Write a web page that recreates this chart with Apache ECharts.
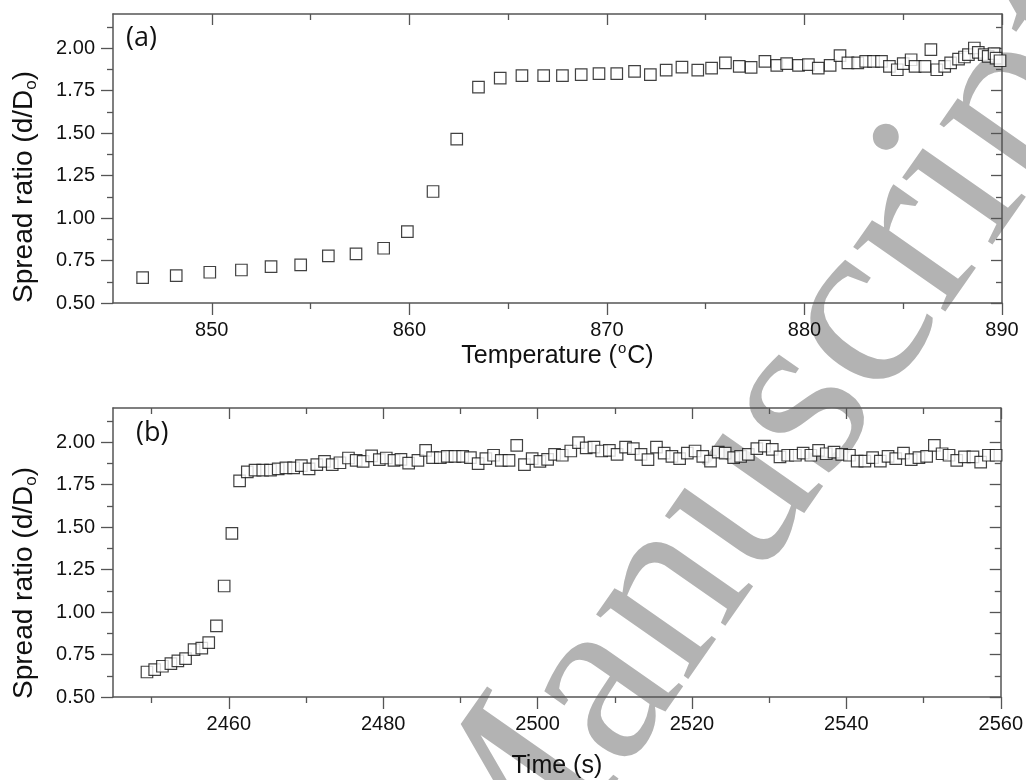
<!DOCTYPE html>
<html>
<head>
<meta charset="utf-8">
<script src="https://cdn.jsdelivr.net/npm/echarts@6/dist/echarts.min.js"></script>
<style>
html,body{margin:0;padding:0;background:#fff;}
#chart{width:1026px;height:780px;}
</style>
</head>
<body>
<div id="chart"></div>
<script>
// ---- Panel (a): spread ratio vs temperature ----
var tempC = [846.5, 848.2, 849.9, 851.5, 853.0, 854.5, 855.9, 857.3, 858.7, 859.9, 861.2, 862.4, 863.5, 864.6, 865.7, 866.8, 867.75, 868.7, 869.6, 870.5, 871.4, 872.2, 873.0, 873.8, 874.6, 875.3, 876.0, 876.7, 877.3, 878.0, 878.6, 879.1, 879.7, 880.2, 880.7, 881.3, 881.8, 882.2, 882.7, 883.1, 883.5, 883.9, 884.3, 884.7, 885.0, 885.4, 885.6, 886.1, 886.4, 886.7, 887.1, 887.4, 887.8, 888.1, 888.3, 888.6, 888.8, 889.1, 889.3, 889.6, 889.7, 889.9];
var ratioA = [0.649, 0.661, 0.681, 0.694, 0.714, 0.724, 0.777, 0.789, 0.822, 0.920, 1.156, 1.464, 1.770, 1.823, 1.837, 1.837, 1.837, 1.843, 1.849, 1.849, 1.862, 1.843, 1.870, 1.888, 1.870, 1.882, 1.912, 1.892, 1.886, 1.921, 1.898, 1.908, 1.898, 1.902, 1.882, 1.898, 1.955, 1.912, 1.912, 1.921, 1.921, 1.921, 1.892, 1.872, 1.908, 1.931, 1.892, 1.892, 1.990, 1.872, 1.892, 1.912, 1.935, 1.947, 1.961, 2.000, 1.974, 1.961, 1.951, 1.967, 1.940, 1.925];

// ---- Panel (b): spread ratio vs time ----
var timeS = [2449.4, 2450.4, 2451.4, 2452.5, 2453.4, 2454.4, 2455.5, 2456.5, 2457.4, 2458.4, 2459.4, 2460.4, 2461.4, 2462.4, 2463.4, 2464.4, 2465.4, 2466.4, 2467.4, 2468.4, 2469.4, 2470.4, 2471.4, 2472.4, 2473.4, 2474.4, 2475.5, 2476.5, 2477.4, 2478.5, 2479.5, 2480.4, 2481.4, 2482.3,
  2483.3, 2484.5, 2485.5, 2486.4, 2487.4, 2488.3, 2489.3, 2490.3, 2491.3, 2492.3, 2493.3, 2494.3, 2495.3, 2496.3, 2497.3, 2498.3, 2499.3, 2500.3, 2501.3, 2502.2, 2503.2, 2504.3, 2505.3, 2506.3, 2507.3, 2508.3, 2509.3, 2510.3, 2511.4, 2512.4, 2513.4, 2514.3, 2515.4, 2516.4, 2517.4, 2518.4, 2519.4, 2520.4, 2521.4, 2522.4,
  2523.4, 2524.3, 2525.4, 2526.3, 2527.3, 2528.4, 2529.4, 2530.4, 2531.4, 2532.4, 2533.4, 2534.4, 2535.4, 2536.4, 2537.4, 2538.4, 2539.4, 2540.4, 2541.4, 2542.4, 2543.4, 2544.4, 2545.4, 2546.4, 2547.4, 2548.4, 2549.4, 2550.4, 2551.4, 2552.4, 2553.3, 2554.3, 2555.3, 2556.4, 2557.4, 2558.4, 2559.4];
var ratioB = [0.647, 0.661, 0.681, 0.696, 0.712, 0.726, 0.779, 0.788, 0.820, 0.918, 1.153, 1.463, 1.771, 1.824, 1.834, 1.834, 1.834, 1.842, 1.848, 1.848, 1.861, 1.842, 1.867, 1.886, 1.867, 1.878, 1.906, 1.892, 1.886, 1.918, 1.896, 1.906, 1.892, 1.898,
  1.876, 1.892, 1.951, 1.908, 1.908, 1.916, 1.916, 1.916, 1.908, 1.873, 1.902, 1.922, 1.892, 1.892, 1.980, 1.867, 1.902, 1.886, 1.898, 1.927, 1.922, 1.947, 1.996, 1.965, 1.970, 1.947, 1.951, 1.927, 1.970, 1.961, 1.927, 1.896, 1.970, 1.935, 1.916, 1.902, 1.935, 1.947, 1.916, 1.888,
  1.941, 1.935, 1.908, 1.916, 1.927, 1.961, 1.976, 1.957, 1.912, 1.922, 1.922, 1.935, 1.922, 1.951, 1.931, 1.941, 1.927, 1.922, 1.888, 1.888, 1.908, 1.888, 1.916, 1.902, 1.935, 1.896, 1.908, 1.916, 1.980, 1.931, 1.922, 1.892, 1.912, 1.912, 1.882, 1.922, 1.922];

// ---- Axis ticks / labels ----
var tempMajor = [850, 860, 870, 880, 890];
var tempMinor = [855, 865, 875, 885];
var timeMajor = [2460, 2480, 2500, 2520, 2540, 2560];
var timeMinor = [2450, 2470, 2490, 2510, 2530, 2550];
var ratioMajor = [0.50, 0.75, 1.00, 1.25, 1.50, 1.75, 2.00];
var ratioMinor = [0.625, 0.875, 1.125, 1.375, 1.625, 1.875, 2.125];

var tempRange = [845, 890];
var timeRange = [2445, 2560];
var ratioRange = [0.5, 2.2];

var AX = '#555';
var TXT = '#111';
var FONT = 'Liberation Sans';

function pairs(xs, ys) { return xs.map(function (x, i) { return [x, ys[i]]; }); }

function xAxesFor(g, range, major, minor, name, nameGap) {
  var base = { type: 'value', gridIndex: g, min: range[0], max: range[1], splitLine: { show: false } };
  function mk(o) { return Object.assign({}, base, o); }
  return [
    mk({ position: 'bottom',
      axisLine: { show: true, lineStyle: { color: AX, width: 1.5 } },
      axisTick: { show: true, inside: false, length: 12, customValues: major, lineStyle: { color: AX, width: 1.3 } },
      axisLabel: { show: true, customValues: major, margin: 17, fontSize: 20, color: TXT, fontFamily: FONT,
        formatter: function (v) { return String(v); } },
      name: name, nameLocation: 'middle', nameGap: nameGap,
      nameTextStyle: { fontFamily: FONT, color: TXT, rich: {
        m: { fontSize: 25, fontFamily: FONT, color: TXT, lineHeight: 30 },
        s: { fontSize: 15, fontFamily: FONT, color: TXT, lineHeight: 30, verticalAlign: 'top', padding: [0, 1, 0, 1] } } } }),
    mk({ position: 'bottom', axisLine: { show: false },
      axisTick: { show: true, inside: false, length: 6, customValues: minor, lineStyle: { color: AX, width: 1.3 } },
      axisLabel: { show: false } }),
    mk({ position: 'top',
      axisLine: { show: true, lineStyle: { color: AX, width: 1.5 } },
      axisTick: { show: true, inside: true, length: 11, customValues: major, lineStyle: { color: AX, width: 1.3 } },
      axisLabel: { show: false } }),
    mk({ position: 'top', axisLine: { show: false },
      axisTick: { show: true, inside: true, length: 6, customValues: minor, lineStyle: { color: AX, width: 1.3 } },
      axisLabel: { show: false } })
  ];
}

function yAxesFor(g) {
  var base = { type: 'value', gridIndex: g, min: ratioRange[0], max: ratioRange[1], splitLine: { show: false } };
  function mk(o) { return Object.assign({}, base, o); }
  return [
    mk({ position: 'left',
      axisLine: { show: true, lineStyle: { color: AX, width: 1.5 } },
      axisTick: { show: true, inside: false, length: 12, customValues: ratioMajor, lineStyle: { color: AX, width: 1.3 } },
      axisLabel: { show: true, customValues: ratioMajor, margin: 18, fontSize: 20, color: TXT, fontFamily: FONT,
        formatter: function (v) { return v.toFixed(2); } } }),
    mk({ position: 'left', axisLine: { show: false },
      axisTick: { show: true, inside: false, length: 6, customValues: ratioMinor, lineStyle: { color: AX, width: 1.3 } },
      axisLabel: { show: false } }),
    mk({ position: 'right',
      axisLine: { show: true, lineStyle: { color: AX, width: 1.5 } },
      axisTick: { show: true, inside: true, length: 11, customValues: ratioMajor, lineStyle: { color: AX, width: 1.3 } },
      axisLabel: { show: false } }),
    mk({ position: 'right', axisLine: { show: false },
      axisTick: { show: true, inside: true, length: 6, customValues: ratioMinor, lineStyle: { color: AX, width: 1.3 } },
      axisLabel: { show: false } })
  ];
}

var yTitleRich = {
  m: { fontSize: 28, fontFamily: FONT, fill: TXT, lineHeight: 32 },
  s: { fontSize: 17, fontFamily: FONT, fill: TXT, lineHeight: 32, verticalAlign: 'bottom' }
};
var panelLabelStyle = { fontSize: 27, fontFamily: 'Open Sans', fill: TXT };

var markerStyle = { color: '#fff', borderColor: '#111', borderWidth: 1.2 };

// watermark angle in degrees (reading direction, counter-clockwise)
var wmAngle = 55;
var wmSize = 245;

var option = {
  animation: false,
  backgroundColor: '#fff',
  grid: [
    { left: 113, top: 14, width: 889, height: 289, containLabel: false },
    { left: 113, top: 408, width: 889, height: 289, containLabel: false }
  ],
  xAxis: [].concat(
    xAxesFor(0, tempRange, tempMajor, tempMinor, '{m|Temperature (}{s|o}{m|C)}', 38),
    xAxesFor(1, timeRange, timeMajor, timeMinor, '{m|Time (s)}', 54)
  ),
  yAxis: [].concat(yAxesFor(0), yAxesFor(1)),
  graphic: [
    { type: 'text', x: 445, y: 914, rotation: wmAngle * Math.PI / 180, z: -100, zlevel: 0, silent: true,
      style: { text: 'Manuscript', font: 'normal ' + wmSize + 'px "Liberation Serif"', fill: '#b3b3b3',
        align: 'left', verticalAlign: 'middle' } },
    { type: 'text', x: 24, y: 187, rotation: Math.PI / 2,
      style: { text: '{m|Spread ratio (d/D}{s|o}{m|)}', rich: yTitleRich, align: 'center', verticalAlign: 'middle' } },
    { type: 'text', x: 24, y: 583, rotation: Math.PI / 2,
      style: { text: '{m|Spread ratio (d/D}{s|o}{m|)}', rich: yTitleRich, align: 'center', verticalAlign: 'middle' } },
    { type: 'text', x: 126, y: 25, style: Object.assign({ text: '(a)' }, panelLabelStyle) },
    { type: 'text', x: 136, y: 420, style: Object.assign({ text: '(b)' }, panelLabelStyle) }
  ],
  series: [
    { type: 'scatter', xAxisIndex: 0, yAxisIndex: 0, symbol: 'rect', symbolSize: 11.5,
      itemStyle: markerStyle, data: pairs(tempC, ratioA), z: 5 },
    { type: 'scatter', xAxisIndex: 4, yAxisIndex: 4, symbol: 'rect', symbolSize: 11.5,
      itemStyle: markerStyle, data: pairs(timeS, ratioB), z: 5 }
  ]
};

var chart = echarts.init(document.getElementById('chart'), null, { renderer: 'canvas' });
chart.setOption(option);
</script>
</body>
</html>
